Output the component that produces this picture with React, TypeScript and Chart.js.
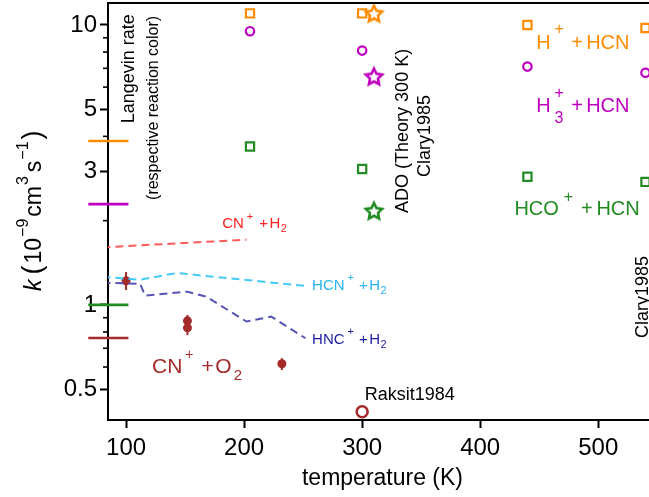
import React, { useEffect, useRef } from 'react';
import { Chart, registerables } from 'chart.js';

Chart.register(...registerables);

const FONT = '"Liberation Sans", Arial, Helvetica, sans-serif';

// ---------- data ----------
const measT = [205, 300, 440, 540];
const hPlusK = [11.0, 11.0, 10.0, 9.75];
const h3PlusK = [9.5, 8.1, 7.1, 6.75];
const hcoPlusK = [3.68, 3.06, 2.87, 2.75];
const adoT = [310];
const adoHPlusK = [11.0];
const adoH3PlusK = [6.55];
const adoHcoPlusK = [2.17];
const cnO2T = [100, 152, 152, 232];
const cnO2K = [1.22, 0.877, 0.828, 0.616];
const cnO2Lo = [1.13, 0.83, 0.78, 0.585];
const cnO2Hi = [1.31, 0.92, 0.87, 0.645];
const raksitT = [300];
const raksitK = [0.415];
const langevinT = [68, 102];
const langevinHPlus = 3.85;
const langevinH3Plus = 2.29;
const langevinHcoPlus = 1.0;
const langevinCnO2 = 0.762;
const cnH2T = [80, 202];
const cnH2K = [1.605, 1.71];
const hcnH2T = [80, 112, 143, 251];
const hcnH2K = [1.26, 1.23, 1.3, 1.17];
const hncH2T = [80, 112, 116, 152, 168, 202, 223, 252];
const hncH2K = [1.2, 1.19, 1.08, 1.115, 1.07, 0.872, 0.908, 0.76];
const xTicks = [100, 200, 300, 400, 500];
const yMajor = [0.5, 1, 3, 5, 10];
const yMinor = [0.6, 0.7, 0.8, 0.9, 2, 4, 6, 7, 8, 9];

const ORANGE = '#ff8c00';
const MAGENTA = '#c000c0';
const GREEN = '#228b22';
const BROWN = '#a52a2a';

const pts = (xs: number[], ys: number[]) => xs.map((x, i) => ({ x, y: ys[i] }));

function makeStar(color: string) {
  const c = document.createElement('canvas');
  c.width = 22;
  c.height = 22;
  const g = c.getContext('2d')!;
  g.beginPath();
  for (let i = 0; i < 10; i++) {
    const r = i % 2 === 0 ? 8.6 : 4.2;
    const a = -Math.PI / 2 + (i * Math.PI) / 5;
    g.lineTo(11 + r * Math.cos(a), 11.8 + r * Math.sin(a));
  }
  g.closePath();
  g.fillStyle = '#fff';
  g.fill();
  g.lineWidth = 2.6;
  g.strokeStyle = color;
  g.stroke();
  return c;
}

type Seg = { t?: string; s: number; r?: number; dx?: number; it?: boolean; sub?: string; sup?: string; rs?: number };

function drawRich(ctx: CanvasRenderingContext2D, segs: Seg[], x: number, y: number, color: string, rot = 0) {
  ctx.save();
  ctx.translate(x, y);
  ctx.rotate(rot);
  ctx.fillStyle = color;
  ctx.textBaseline = 'alphabetic';
  ctx.textAlign = 'left';
  let cx = 0;
  for (const g of segs) {
    ctx.font = `${g.it ? 'italic ' : ''}${g.s}px ${FONT}`;
    cx += g.dx || 0;
    if (g.sub !== undefined || g.sup !== undefined) {
      const w1 = ctx.measureText(g.sub || '').width;
      const w2 = ctx.measureText(g.sup || '').width;
      ctx.fillText(g.sub || '', cx, -(g.rs || 0));
      ctx.fillText(g.sup || '', cx, -(g.r || 0));
      cx += Math.max(w1, w2);
    } else {
      ctx.fillText(g.t || '', cx, -(g.r || 0));
      cx += ctx.measureText(g.t || '').width;
    }
  }
  ctx.restore();
}

const annotPlugin = {
  id: 'annot',
  afterDatasetsDraw(chart: any) {
    const ctx: CanvasRenderingContext2D = chart.ctx;
    const xs = chart.scales.x;
    const ys = chart.scales.y;
    const X = (v: number) => xs.getPixelForValue(v);
    const Y = (v: number) => ys.getPixelForValue(v);
    ctx.save();
    ctx.strokeStyle = BROWN;
    ctx.lineWidth = 2;
    cnO2T.forEach((t, i) => {
      ctx.beginPath();
      ctx.moveTo(X(t), Y(cnO2Lo[i]));
      ctx.lineTo(X(t), Y(cnO2Hi[i]));
      ctx.stroke();
    });
    ctx.restore();
  },
  afterDraw(chart: any) {
    const ctx: CanvasRenderingContext2D = chart.ctx;
    const xs = chart.scales.x;
    const ys = chart.scales.y;
    const ca = chart.chartArea;
    const X = (v: number) => xs.getPixelForValue(v);
    const Y = (v: number) => ys.getPixelForValue(v);
    ctx.save();
    ctx.strokeStyle = '#000';
    ctx.lineWidth = 2;
    ctx.beginPath();
    ctx.moveTo(ca.left - 1, ca.top);
    ctx.lineTo(ca.right, ca.top);
    ctx.stroke();
    ctx.lineWidth = 1.6;
    yMinor.forEach((v) => {
      const y = Y(v);
      ctx.beginPath();
      ctx.moveTo(ca.left - 5, y);
      ctx.lineTo(ca.left, y);
      ctx.stroke();
    });
    ctx.restore();

    const up = -Math.PI / 2;
    drawRich(ctx, [{ t: 'CN', s: 15 }, { t: '+', s: 11, r: 8, dx: 3 }, { t: '+', s: 15, dx: 6 }, { t: 'H', s: 15, dx: 1.5 }, { t: '2', s: 11, r: -4, dx: 0.5 }], X(181.4), Y(1.884), '#ff2020');
    drawRich(ctx, [{ t: 'HCN', s: 15 }, { t: '+', s: 11, r: 9, dx: 3 }, { t: '+', s: 15, dx: 5 }, { t: 'H', s: 15, dx: 1.5 }, { t: '2', s: 11, r: -4, dx: 0.5 }], X(257.6), Y(1.131), '#2ab4f0');
    drawRich(ctx, [{ t: 'HNC', s: 15 }, { t: '+', s: 11, r: 9, dx: 3 }, { t: '+', s: 15, dx: 5 }, { t: 'H', s: 15, dx: 1.5 }, { t: '2', s: 11, r: -4, dx: 0.5 }], X(257.6), Y(0.726), '#1c1ca0');
    drawRich(ctx, [{ t: 'CN', s: 21 }, { t: '+', s: 14, r: 14, dx: 3 }, { t: '+', s: 21, dx: 8 }, { t: 'O', s: 21, dx: 1.5 }, { t: '2', s: 15, r: -7, dx: 2 }], X(122.0), Y(0.571), BROWN);
    drawRich(ctx, [{ t: 'Raksit1984', s: 18 }], X(302.2), Y(0.458), '#000');
    drawRich(ctx, [{ t: 'H', s: 20 }, { t: '+', s: 16, r: 15, dx: 3.8 }, { t: '+', s: 20, dx: 7.5 }, { t: 'HCN', s: 20, dx: 3.1 }], X(447.5), Y(8.2), ORANGE);
    drawRich(ctx, [{ t: 'H', s: 20 }, { sub: '3', sup: '+', s: 16, r: 14, rs: -11, dx: 3.8 }, { t: '+', s: 20, dx: 7.5 }, { t: 'HCN', s: 20, dx: 3.1 }], X(447.5), Y(4.89), MAGENTA);
    drawRich(ctx, [{ t: 'HCO', s: 20 }, { t: '+', s: 16, r: 13, dx: 5 }, { t: '+', s: 20, dx: 7.7 }, { t: 'HCN', s: 20, dx: 3.8 }], X(429.0), Y(2.095), GREEN);
    drawRich(ctx, [{ t: 'ADO (Theory 300 K)', s: 18 }], X(339.0), Y(2.131), '#000', up);
    drawRich(ctx, [{ t: 'Clary1985', s: 18 }], X(357.6), Y(2.865), '#000', up);
    drawRich(ctx, [{ t: 'Clary1985', s: 18 }], X(542.4), Y(0.762), '#000', up);
    drawRich(ctx, [{ t: 'Langevin rate', s: 18 }], X(106.4), Y(4.456), '#000', up);
    drawRich(ctx, [{ t: '(respective reaction color)', s: 16 }], X(127.4), Y(2.371), '#000', up);

    ctx.save();
    ctx.font = `23px ${FONT}`;
    ctx.fillStyle = '#000';
    ctx.textAlign = 'center';
    ctx.textBaseline = 'alphabetic';
    ctx.fillText('temperature (K)', (ca.left + ca.right) / 2 + 4, 485);
    ctx.restore();
    drawRich(
      ctx,
      [
        { t: 'k', s: 23, it: true },
        { t: '(', s: 27, dx: 5 },
        { t: '10', s: 23, dx: 2 },
        { t: '\u22129', s: 16, r: 13, dx: 1 },
        { t: 'cm', s: 23, dx: 2 },
        { t: '3', s: 16, r: 13, dx: 1 },
        { t: 's', s: 23, dx: 4 },
        { t: '\u22121', s: 16, r: 13, dx: 1 },
        { t: ')', s: 27, dx: 2 },
      ],
      41,
      291,
      '#000',
      up
    );
  },
};

export default function App() {
  const ref = useRef<HTMLCanvasElement>(null);
  useEffect(() => {
    const canvas = ref.current!;
    const lineDs = (xs: number[], ys: number[], color: string) => ({
      type: 'line' as const,
      data: pts(xs, ys),
      borderColor: color,
      borderWidth: 2,
      borderDash: [8, 5],
      pointRadius: 0,
      showLine: true,
      fill: false,
      tension: 0,
    });
    const langDs = (k: number, color: string) => ({
      type: 'line' as const,
      data: pts(langevinT, [k, k]),
      borderColor: color,
      borderWidth: 2.6,
      pointRadius: 0,
      showLine: true,
      fill: false,
      clip: false as any,
    });
    const chart = new Chart(canvas, {
      type: 'scatter',
      data: {
        datasets: [
          lineDs(cnH2T, cnH2K, '#ff5a5a'),
          lineDs(hcnH2T, hcnH2K, '#45c8fa'),
          lineDs(hncH2T, hncH2K, '#5555b5'),
          langDs(langevinHPlus, ORANGE),
          langDs(langevinH3Plus, MAGENTA),
          langDs(langevinHcoPlus, GREEN),
          langDs(langevinCnO2, BROWN),
          { data: pts(measT, hPlusK), pointStyle: 'rect', pointRadius: 5.8, borderColor: ORANGE, backgroundColor: 'rgba(0,0,0,0)', borderWidth: 2.2, clip: false as any },
          { data: pts(measT, h3PlusK), pointStyle: 'circle', pointRadius: 4.2, borderColor: MAGENTA, backgroundColor: 'rgba(0,0,0,0)', borderWidth: 2.2, clip: false as any },
          { data: pts(measT, hcoPlusK), pointStyle: 'rect', pointRadius: 5.8, borderColor: GREEN, backgroundColor: 'rgba(0,0,0,0)', borderWidth: 2.2, clip: false as any },
          { data: pts(adoT, adoHPlusK), pointStyle: makeStar(ORANGE), pointRadius: 9, clip: false as any },
          { data: pts(adoT, adoH3PlusK), pointStyle: makeStar(MAGENTA), pointRadius: 9, clip: false as any },
          { data: pts(adoT, adoHcoPlusK), pointStyle: makeStar(GREEN), pointRadius: 9, clip: false as any },
          { data: pts(cnO2T, cnO2K), pointStyle: 'circle', pointRadius: 4.5, borderColor: BROWN, backgroundColor: BROWN, borderWidth: 0, clip: false as any },
          { data: pts(raksitT, raksitK), pointStyle: 'circle', pointRadius: 5.5, borderColor: BROWN, backgroundColor: '#fff', borderWidth: 2.5, clip: false as any },
        ] as any,
      },
      options: {
        responsive: false,
        animation: false,
        events: [],
        layout: { autoPadding: false, padding: { left: 0, top: 3, right: 0, bottom: 0 } },
        plugins: { legend: { display: false }, tooltip: { enabled: false }, title: { display: false } },
        scales: {
          x: {
            type: 'linear',
            min: 84.7,
            max: 543,
            afterBuildTicks: (s: any) => {
              s.ticks = xTicks.map((v) => ({ value: v }));
            },
            ticks: { font: { size: 24, family: FONT }, color: '#000', padding: 6, maxRotation: 0, autoSkip: false, callback: (v: any) => String(v) },
            grid: { drawOnChartArea: false, tickLength: 8, tickWidth: 2, tickColor: '#000' },
            border: { color: '#000', width: 2 },
            afterFit: (s: any) => {
              s.height = 77;
              s.paddingLeft = 0;
              s.paddingRight = 0;
            },
          },
          y: {
            type: 'logarithmic',
            min: 0.388,
            max: 11.98,
            afterBuildTicks: (s: any) => {
              s.ticks = [...yMajor].sort((a, b) => a - b).map((v) => ({ value: v }));
            },
            ticks: { font: { size: 24, family: FONT }, color: '#000', padding: 3, autoSkip: false, callback: (v: any) => String(v) },
            grid: { drawOnChartArea: false, tickLength: 8, tickWidth: 2, tickColor: '#000' },
            border: { color: '#000', width: 2 },
            afterFit: (s: any) => {
              s.width = 108;
              s.paddingTop = 0;
              s.paddingBottom = 0;
            },
          },
        },
      },
      plugins: [annotPlugin],
    });
    return () => chart.destroy();
  }, []);
  return (
    <div style={{ position: 'absolute', left: 0, top: 0, width: 649, height: 497 }}>
      <canvas ref={ref} width={649} height={497} style={{ width: 649, height: 497, display: 'block' }} />
    </div>
  );
}
